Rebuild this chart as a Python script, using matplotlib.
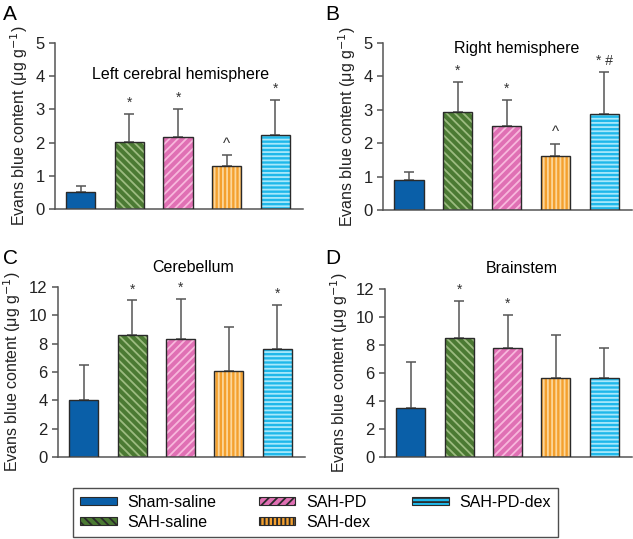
import numpy as np
import matplotlib
matplotlib.use('Agg')
import matplotlib.pyplot as plt
import matplotlib.patches as mpatches

plt.rcParams['font.family'] = ['Liberation Sans', 'DejaVu Sans']
plt.rcParams['hatch.linewidth'] = 1.3

groups = ['Sham-saline', 'SAH-saline', 'SAH-PD', 'SAH-dex', 'SAH-PD-dex']

# mean and upper error-bar top for each panel
left_mean = [0.50, 2.03, 2.16, 1.31, 2.24]
left_top = [0.68, 2.86, 3.00, 1.63, 3.28]
left_marks = ['', '*', '*', '^', '*']

right_mean = [0.90, 2.94, 2.51, 1.61, 2.87]
right_top = [1.15, 3.82, 3.29, 1.99, 4.13]
right_marks = ['', '*', '*', '^', '* #']

cereb_mean = [4.00, 8.63, 8.35, 6.09, 7.65]
cereb_top = [6.47, 11.05, 11.13, 9.20, 10.75]
cereb_marks = ['', '*', '*', '', '*']

brain_mean = [3.49, 8.49, 7.82, 5.64, 5.62]
brain_top = [6.81, 11.13, 10.16, 8.72, 7.82]
brain_marks = ['', '*', '*', '', '']

# face colour, stripe colour, hatch
styles = [
    ('#0a5fa8', '#0a5fa8', None),
    ('#4b7a33', '#9cbb80', '\\\\\\\\'),
    ('#e070b4', '#f7b8dc', '////'),
    ('#f4a02e', '#fcd69a', '||||'),
    ('#1fb8ea', '#a8e8fb', '----'),
]

edge = '#2a2a2a'
grey = '#555555'

W, H = 633, 539
fig = plt.figure(figsize=(W / 100, H / 100), dpi=100)


def px_axes(x0, x1, ytop, ybot):
    return fig.add_axes([x0 / W, 1 - ybot / H, (x1 - x0) / W, (ybot - ytop) / H])


def draw_panel(ax, means, tops, marks, ymax, step):
    x = np.arange(len(means))
    for i in range(len(means)):
        face, stripe, hatch = styles[i]
        ax.bar(x[i], means[i], width=0.6, color=face, edgecolor=stripe,
               hatch=hatch, linewidth=0, zorder=2)
        ax.bar(x[i], means[i], width=0.6, fill=False, edgecolor=edge,
               linewidth=1.0, zorder=3)
        err = tops[i] - means[i]
        ax.errorbar(x[i], means[i], yerr=[[0], [err]], fmt='none',
                    ecolor=grey, elinewidth=1.1, capsize=3.5, capthick=1.1, zorder=1)
        if marks[i]:
            ax.annotate(marks[i], (x[i], tops[i]), xytext=(0, 3),
                        textcoords='offset points', ha='center', va='bottom',
                        fontsize=10 if marks[i] != '^' else 11, color='#333333')
    ax.set_xlim(-0.53, 4.57)
    ax.set_ylim(0, ymax)
    ax.set_yticks(np.arange(0, ymax + 0.1, step))
    ax.set_xticks([])
    for s in ['top', 'right']:
        ax.spines[s].set_visible(False)
    for s in ['left', 'bottom']:
        ax.spines[s].set_color(grey)
        ax.spines[s].set_linewidth(1.1)
    ax.tick_params(axis='y', colors=grey, labelcolor='#222222', labelsize=12,
                   length=4, width=1.1, direction='out')
    ax.set_ylabel('Evans blue content (μg g$^{-1}$)', fontsize=11.5, color='#222222')


axA = px_axes(55, 303, 43, 209)
draw_panel(axA, left_mean, left_top, left_marks, 5, 1)
axA.text(2.05, 4.05, 'Left cerebral hemisphere', ha='center', va='center', fontsize=11.5)

axB = px_axes(383, 632, 43, 210)
draw_panel(axB, right_mean, right_top, right_marks, 5, 1)
axB.text(2.2, 4.83, 'Right hemisphere', ha='center', va='center', fontsize=11.5)

axC = px_axes(58, 305, 287, 457)
draw_panel(axC, cereb_mean, cereb_top, cereb_marks, 12, 2)
axC.text(2.25, 13.35, 'Cerebellum', ha='center', va='center', fontsize=11.5)

axD = px_axes(385, 632, 289, 457)
draw_panel(axD, brain_mean, brain_top, brain_marks, 12, 2)
axD.text(2.3, 13.45, 'Brainstem', ha='center', va='center', fontsize=11.5)

for lab, (px, py) in zip('ABCD', [(3, 14), (325, 14), (3, 258), (325, 258)]):
    fig.text(px / W, 1 - py / H, lab, fontsize=15, ha='left', va='center')

handles = []
for i, g in enumerate(groups):
    face, stripe, hatch = styles[i]
    handles.append(mpatches.Patch(facecolor=face, edgecolor=edge, hatch=hatch,
                                  linewidth=0.8, label=g))
leg = fig.legend(handles=handles, ncol=3, loc='lower left', mode='expand',
                 bbox_to_anchor=(73 / W, 1 - 537 / H, 485 / W, 49 / H),
                 frameon=True, fancybox=False,
                 edgecolor='#222222', fontsize=11.5, handlelength=2.3, handleheight=0.4,
                 columnspacing=0.6, handletextpad=0.65, labelspacing=0.3,
                 borderpad=0.45, borderaxespad=0)
leg.get_frame().set_linewidth(1.0)

fig.savefig('out.png', dpi=100)
